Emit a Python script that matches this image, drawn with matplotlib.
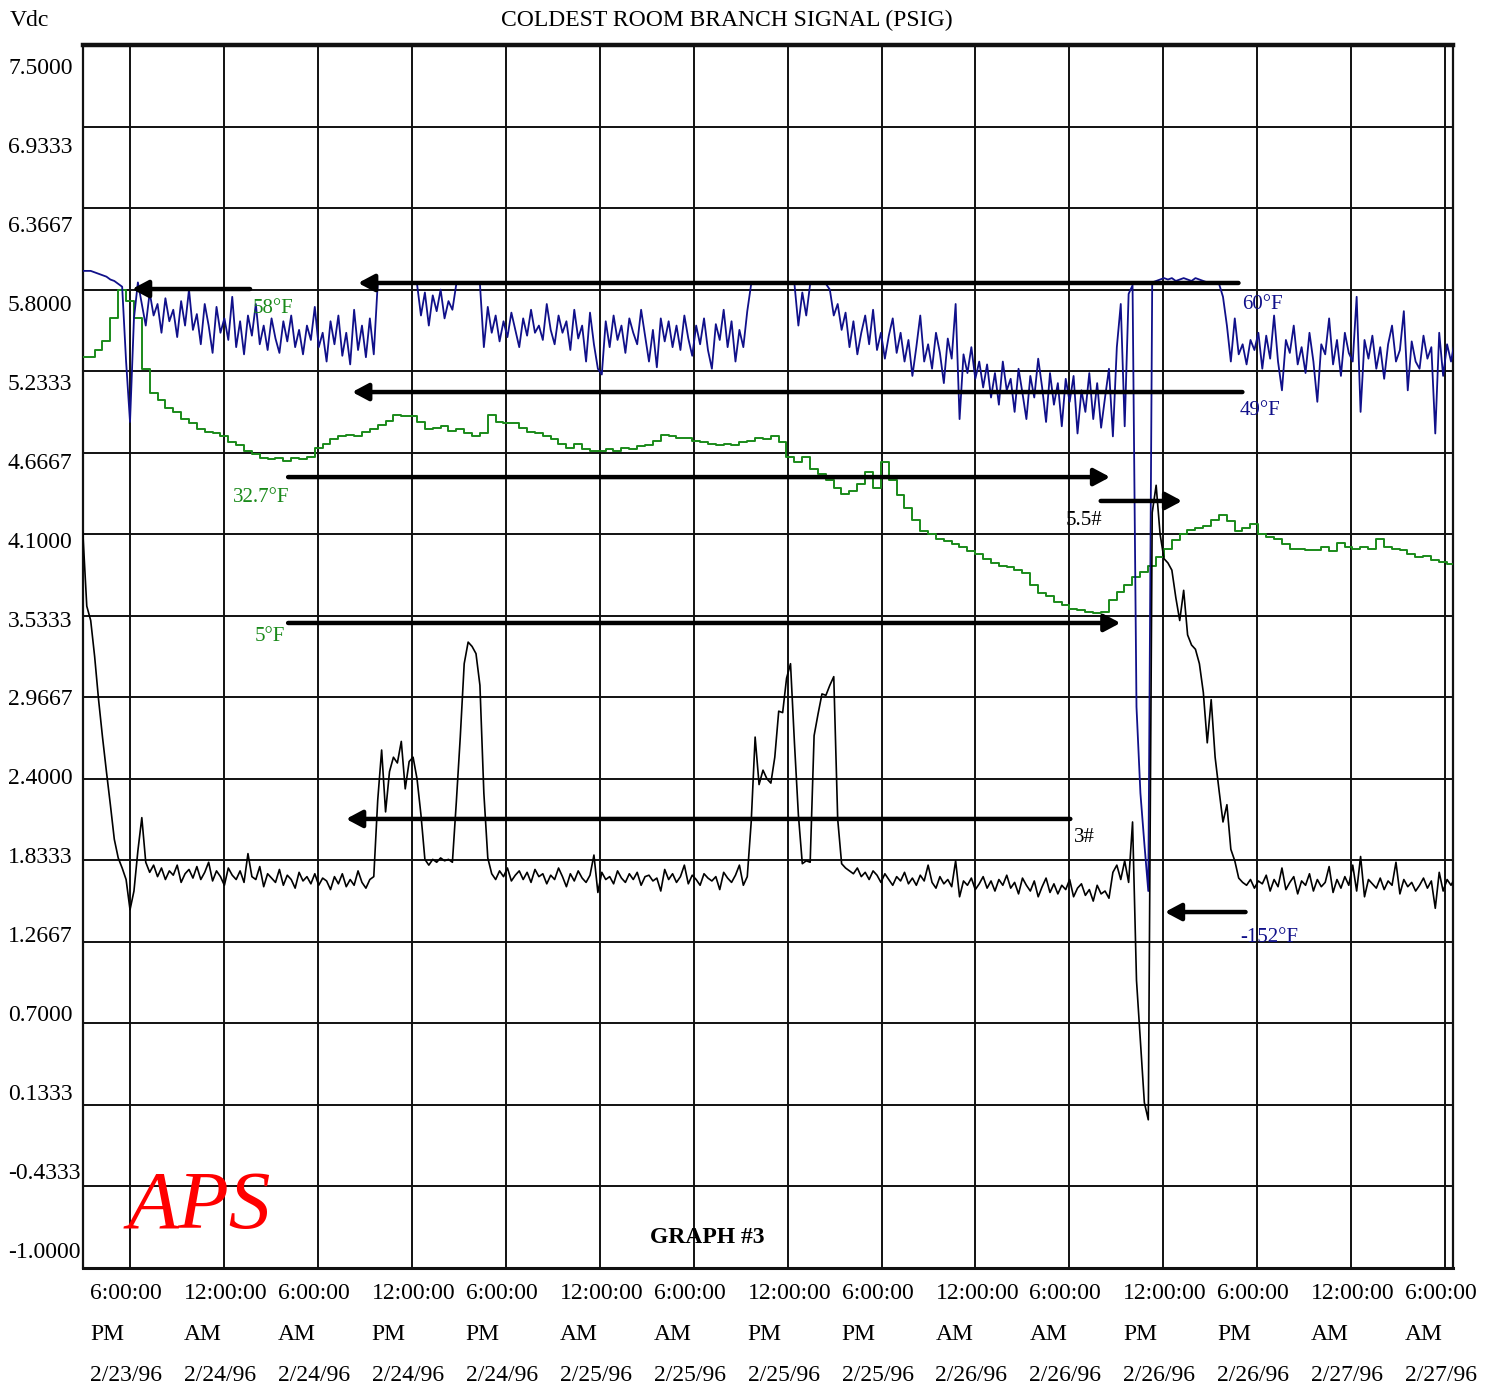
import numpy as np
import matplotlib
matplotlib.use("Agg")
import matplotlib.pyplot as plt
from matplotlib.transforms import ScaledTranslation

plt.rcParams['font.family'] = ['Liberation Serif', 'DejaVu Serif']

# ---------------- data ----------------
# hours measured from 6:00 PM 2/23/96
T_START = -3.01
DT_FAST = 0.2511   # sample spacing (h) of the branch-signal / blue trace
DT_SLOW = 0.5021   # sample spacing (h) of the green temperature trace

blue_vdc = [
    5.93, 5.93, 5.93, 5.92,  5.91, 5.90, 5.89, 5.87,  5.86, 5.84, 5.82, 5.30,
    4.88, 5.60, 5.85, 5.70,  5.55, 5.78, 5.62, 5.70,  5.50, 5.74, 5.58, 5.66,
    5.47, 5.72, 5.55, 5.80,  5.52, 5.63, 5.42, 5.70,  5.55, 5.36, 5.68, 5.50,
    5.60, 5.45, 5.75, 5.40,  5.58, 5.35, 5.62, 5.48,  5.70, 5.42, 5.55, 5.38,
    5.60, 5.46, 5.36, 5.58,  5.44, 5.62, 5.40, 5.52,  5.35, 5.55, 5.45, 5.68,
    5.40, 5.50, 5.30, 5.58,  5.42, 5.62, 5.34, 5.50,  5.28, 5.66, 5.38, 5.55,
    5.33, 5.60, 5.35, 5.84,  5.84, 5.84, 5.84, 5.84,  5.84, 5.84, 5.84, 5.84,
    5.84, 5.84, 5.62, 5.78,  5.55, 5.76, 5.65, 5.80,  5.60, 5.72, 5.66, 5.84,
    5.84, 5.84, 5.84, 5.84,  5.84, 5.84, 5.40, 5.68,  5.50, 5.62, 5.44, 5.58,
    5.47, 5.64, 5.52, 5.40,  5.60, 5.48, 5.66, 5.50,  5.55, 5.45, 5.70, 5.52,
    5.42, 5.62, 5.50, 5.58,  5.38, 5.66, 5.46, 5.55,  5.30, 5.64, 5.42, 5.25,
    5.21, 5.58, 5.40, 5.62,  5.45, 5.55, 5.36, 5.60,  5.50, 5.42, 5.66, 5.48,
    5.30, 5.52, 5.26, 5.60,  5.44, 5.58, 5.40, 5.55,  5.38, 5.62, 5.46, 5.34,
    5.55, 5.42, 5.60, 5.38,  5.25, 5.56, 5.45, 5.66,  5.40, 5.58, 5.30, 5.52,
    5.40, 5.65, 5.84, 5.84,  5.84, 5.84, 5.84, 5.84,  5.84, 5.84, 5.84, 5.84,
    5.84, 5.84, 5.55, 5.78,  5.62, 5.84, 5.84, 5.84,  5.84, 5.84, 5.80, 5.62,
    5.70, 5.52, 5.64, 5.40,  5.58, 5.35, 5.50, 5.62,  5.42, 5.66, 5.38, 5.50,
    5.32, 5.48, 5.60, 5.36,  5.50, 5.30, 5.45, 5.20,  5.40, 5.62, 5.30, 5.42,
    5.25, 5.50, 5.36, 5.15,  5.46, 5.32, 5.70, 4.90,  5.35, 5.22, 5.40, 5.18,
    5.30, 5.12, 5.28, 5.05,  5.22, 5.00, 5.30, 5.10,  5.18, 4.95, 5.25, 5.08,
    4.90, 5.20, 5.05, 5.32,  5.12, 4.88, 5.22, 5.00,  5.15, 4.85, 5.18, 5.02,
    5.20, 4.80, 5.10, 4.95,  5.22, 4.90, 5.15, 4.84,  5.05, 5.25, 4.78, 5.40,
    5.70, 4.85, 5.77, 5.83,  2.90, 2.30, 1.95, 1.62,  5.85, 5.86, 5.87, 5.88,
    5.87, 5.88, 5.86, 5.87,  5.88, 5.87, 5.86, 5.88,  5.87, 5.86, 5.85, 5.84,
    5.84, 5.84, 5.75, 5.55,  5.30, 5.60, 5.35, 5.42,  5.28, 5.45, 5.38, 5.50,
    5.25, 5.48, 5.32, 5.62,  5.30, 5.10, 5.45, 5.36,  5.55, 5.28, 5.40, 5.22,
    5.50, 5.30, 5.02, 5.42,  5.35, 5.60, 5.28, 5.45,  5.20, 5.50, 5.36, 5.30,
    5.75, 4.95, 5.45, 5.32,  5.48, 5.25, 5.40, 5.18,  5.42, 5.55, 5.30, 5.38,
    5.65, 5.10, 5.44, 5.30,  5.25, 5.48, 5.32, 5.40,  4.80, 5.50, 5.20, 5.42,
    5.30, 5.45, 5.22,
]

black_vdc = [
    4.11, 3.60, 3.50, 3.25,  2.95, 2.69, 2.45, 2.22,  1.98, 1.85, 1.78, 1.70,
    1.49, 1.62, 1.90, 2.13,  1.82, 1.75, 1.80, 1.72,  1.78, 1.70, 1.76, 1.73,
    1.80, 1.68, 1.74, 1.77,  1.71, 1.79, 1.70, 1.75,  1.82, 1.69, 1.76, 1.72,
    1.66, 1.78, 1.73, 1.70,  1.76, 1.68, 1.88, 1.72,  1.70, 1.79, 1.65, 1.74,
    1.71, 1.68, 1.77, 1.66,  1.73, 1.70, 1.64, 1.75,  1.69, 1.72, 1.67, 1.74,
    1.66, 1.71, 1.69, 1.63,  1.72, 1.67, 1.74, 1.65,  1.70, 1.66, 1.76, 1.68,
    1.64, 1.70, 1.72, 2.25,  2.60, 2.17, 2.45, 2.55,  2.51, 2.66, 2.33, 2.52,
    2.55, 2.40, 2.15, 1.84,  1.80, 1.84, 1.82, 1.85,  1.83, 1.84, 1.82, 2.24,
    2.69, 3.20, 3.35, 3.32,  3.27, 3.05, 2.30, 1.85,  1.74, 1.70, 1.76, 1.72,
    1.78, 1.69, 1.73, 1.76,  1.70, 1.75, 1.68, 1.77,  1.72, 1.74, 1.67, 1.73,
    1.70, 1.78, 1.72, 1.65,  1.74, 1.69, 1.76, 1.71,  1.68, 1.73, 1.87, 1.61,
    1.75, 1.70, 1.72, 1.67,  1.76, 1.71, 1.68, 1.74,  1.70, 1.75, 1.66, 1.72,
    1.73, 1.69, 1.71, 1.62,  1.77, 1.70, 1.74, 1.68,  1.72, 1.80, 1.67, 1.73,
    1.70, 1.66, 1.74, 1.71,  1.69, 1.72, 1.63, 1.75,  1.71, 1.68, 1.73, 1.80,
    1.66, 1.72, 2.10, 2.69,  2.36, 2.46, 2.40, 2.37,  2.55, 2.87, 2.86, 3.10,
    3.20, 2.65, 2.15, 1.81,  1.83, 1.82, 2.70, 2.85,  2.99, 2.98, 3.05, 3.11,
    2.12, 1.81, 1.78, 1.76,  1.74, 1.78, 1.72, 1.75,  1.70, 1.76, 1.73, 1.68,
    1.74, 1.70, 1.66, 1.72,  1.69, 1.75, 1.67, 1.71,  1.66, 1.73, 1.69, 1.80,
    1.68, 1.64, 1.72, 1.67,  1.70, 1.65, 1.83, 1.58,  1.69, 1.66, 1.71, 1.63,
    1.67, 1.72, 1.64, 1.69,  1.62, 1.70, 1.66, 1.73,  1.64, 1.68, 1.60, 1.71,
    1.66, 1.62, 1.69, 1.58,  1.65, 1.71, 1.61, 1.67,  1.60, 1.66, 1.63, 1.70,
    1.58, 1.64, 1.67, 1.59,  1.63, 1.55, 1.66, 1.60,  1.62, 1.57, 1.75, 1.80,
    1.70, 1.83, 1.68, 2.10,  1.00, 0.58, 0.15, 0.03,  4.25, 4.44, 4.10, 3.93,
    3.90, 3.85, 3.66, 3.50,  3.71, 3.40, 3.33, 3.30,  3.20, 3.00, 2.65, 2.95,
    2.55, 2.32, 2.10, 2.22,  1.91, 1.83, 1.71, 1.68,  1.66, 1.70, 1.64, 1.69,
    1.67, 1.73, 1.62, 1.70,  1.65, 1.78, 1.63, 1.68,  1.72, 1.60, 1.69, 1.66,
    1.74, 1.62, 1.70, 1.65,  1.68, 1.79, 1.61, 1.70,  1.64, 1.72, 1.66, 1.80,
    1.62, 1.86, 1.58, 1.70,  1.67, 1.64, 1.71, 1.63,  1.69, 1.66, 1.82, 1.60,
    1.70, 1.65, 1.68, 1.62,  1.66, 1.71, 1.64, 1.69,  1.50, 1.75, 1.62, 1.70,
    1.66, 1.71, 1.63,
]

green_vdc = [
    5.33, 5.33, 5.38, 5.44, 5.60, 5.80, 5.72, 5.60, 5.25, 5.08,
    5.03, 4.98, 4.95, 4.90, 4.87, 4.83, 4.81, 4.80, 4.78, 4.74,
    4.72, 4.68, 4.66, 4.63, 4.62, 4.63, 4.61, 4.63, 4.62, 4.64,
    4.70, 4.73, 4.76, 4.78, 4.79, 4.78, 4.81, 4.83, 4.86, 4.89,
    4.93, 4.92, 4.92, 4.88, 4.83, 4.84, 4.85, 4.82, 4.83, 4.80,
    4.78, 4.80, 4.93, 4.88, 4.87, 4.87, 4.84, 4.81, 4.80, 4.78,
    4.76, 4.73, 4.70, 4.73, 4.69, 4.68, 4.68, 4.69, 4.68, 4.70,
    4.69, 4.71, 4.72, 4.75, 4.79, 4.78, 4.77, 4.77, 4.75, 4.74,
    4.73, 4.72, 4.73, 4.72, 4.74, 4.75, 4.77, 4.76, 4.78, 4.74,
    4.64, 4.60, 4.64, 4.55, 4.52, 4.48, 4.42, 4.38, 4.40, 4.45,
    4.53, 4.42, 4.60, 4.48, 4.37, 4.28, 4.20, 4.12, 4.10, 4.07,
    4.05, 4.03, 4.01, 3.98, 3.96, 3.93, 3.90, 3.88, 3.87, 3.85,
    3.83, 3.75, 3.69, 3.67, 3.63, 3.61, 3.58, 3.57, 3.56, 3.55,
    3.56, 3.64, 3.70, 3.75, 3.80, 3.84, 3.88, 3.94, 4.00, 4.06,
    4.10, 4.13, 4.14, 4.16, 4.20, 4.23, 4.19, 4.12, 4.14, 4.17,
    4.10, 4.08, 4.07, 4.03, 4.00, 4.00, 3.99, 3.99, 4.01, 3.98,
    4.04, 4.01, 4.00, 4.01, 4.00, 4.07, 4.01, 4.00, 3.99, 3.96,
    3.94, 3.95, 3.92, 3.91, 3.89, 3.88,
]

ytick_labels = ['7.5000', '6.9333', '6.3667', '5.8000', '5.2333', '4.6667',
                '4.1000', '3.5333', '2.9667', '2.4000', '1.8333', '1.2667',
                '0.7000', '0.1333', '-0.4333', '-1.0000']
xtick_hours = [0, 6, 12, 18, 24, 30, 36, 42, 48, 54, 60, 66, 72, 78, 84]
xtick_labels = ['6:00:00\nPM\n2/23/96', '12:00:00\nAM\n2/24/96', '6:00:00\nAM\n2/24/96',
                '12:00:00\nPM\n2/24/96', '6:00:00\nPM\n2/24/96', '12:00:00\nAM\n2/25/96',
                '6:00:00\nAM\n2/25/96', '12:00:00\nPM\n2/25/96', '6:00:00\nPM\n2/25/96',
                '12:00:00\nAM\n2/26/96', '6:00:00\nAM\n2/26/96', '12:00:00\nPM\n2/26/96',
                '6:00:00\nPM\n2/26/96', '12:00:00\nAM\n2/27/96', '6:00:00\nAM\n2/27/96']

# arrow annotations: (tail hour, head hour, level Vdc)
arrow_tail_h = [7.67, 70.8, 71.05, 10.1, 62.0, 10.1, 60.06, 71.25]
arrow_head_h = [0.13, 14.57, 14.19, 62.6, 67.2, 63.26, 13.8, 66.1]
arrow_level = [5.804, 5.846, 5.088, 4.497, 4.331, 3.483, 2.121, 1.474]

note_text = ['58°F', '60°F', '49°F', '32.7°F', '5.5#', '5°F', '3#', '-152°F']
note_h = [7.86, 71.05, 70.9, 6.58, 59.74, 7.99, 60.26, 70.9]
note_v = [5.672, 5.693, 4.963, 4.358, 4.192, 3.386, 1.989, 1.30]
note_color = ['#1a8a1a', '#10108a', '#10108a', '#1a8a1a', 'black', '#1a8a1a', 'black', '#10108a']

# ---------------- figure ----------------
W, H = 1497, 1393
fig = plt.figure(figsize=(W / 100, H / 100), dpi=100)
fig.patch.set_facecolor('white')
ax = fig.add_axes([83 / W, 1 - 1268 / H, (1453 - 83) / W, (1268 - 45) / H])

t_fast_b = T_START + DT_FAST * np.arange(len(blue_vdc))
t_fast_k = T_START + DT_FAST * np.arange(len(black_vdc))
t_slow = T_START + DT_SLOW * np.arange(len(green_vdc))

ax.plot(t_slow, green_vdc, color='#1a8a1a', lw=1.4, drawstyle='steps-mid', zorder=3)
ax.plot(t_fast_b, blue_vdc, color='#10108a', lw=1.3, zorder=3)
ax.plot(t_fast_k, black_vdc, color='black', lw=1.2, zorder=3)

yticks = [float(s) for s in ytick_labels]
ax.set_xlim(-3.0, 84.5)
ax.set_ylim(-1.0, 7.5)
ax.set_yticks(yticks)
ax.set_yticklabels([])
ax.set_xticks(xtick_hours)
ax.set_xticklabels(xtick_labels, ha='left', multialignment='left',
                   linespacing=2.25, fontsize=17)
ax.tick_params(axis='both', length=0)
ax.tick_params(axis='x', pad=11)
off = ScaledTranslation(-40 / 100, 0, fig.dpi_scale_trans)
for lbl in ax.get_xticklabels():
    lbl.set_transform(lbl.get_transform() + off)
ax.grid(True, color='#111111', lw=1.4, zorder=1)

for side, lw in [('top', 3.2), ('bottom', 2.2), ('left', 1.6), ('right', 1.6)]:
    ax.spines[side].set_linewidth(lw)
    ax.spines[side].set_color('#111111')

# y tick labels (printed with their own, slightly compressed spacing)
ax2 = ax.twinx()
ax2.set_ylim(-1.129, 7.651)
ax2.yaxis.tick_left()
ax2.set_yticks(yticks)
ax2.set_yticklabels(ytick_labels, fontsize=17)
ax2.tick_params(axis='y', length=0, pad=54)
for lbl in ax2.get_yticklabels():
    lbl.set_ha('left')
for s in ax2.spines.values():
    s.set_visible(False)

# arrows
for x0, x1, y in zip(arrow_tail_h, arrow_head_h, arrow_level):
    ax.annotate('', xy=(x1, y), xytext=(x0, y),
                arrowprops=dict(arrowstyle='-|>,head_length=0.6,head_width=0.32',
                                lw=3.2, color='black', shrinkA=0, shrinkB=0,
                                mutation_scale=16),
                zorder=5)

for txt, h, v, c in zip(note_text, note_h, note_v, note_color):
    ax.text(h, v, txt, color=c, fontsize=15, ha='left', va='center', zorder=6)

ax.text(-0.13, -0.722, 'APS', color='red', fontsize=60, style='italic',
        ha='left', va='baseline', zorder=6)
ax.text(36.9, -0.79, 'GRAPH #3', fontsize=17, fontweight='bold',
        ha='center', va='center', zorder=6)

fig.text(727 / W, 1 - 20 / H, 'COLDEST ROOM BRANCH SIGNAL (PSIG)', fontsize=17,
         ha='center', va='center')
fig.text(10 / W, 1 - 20 / H, 'Vdc', fontsize=17, ha='left', va='center')

fig.savefig('out.png', dpi=100)
